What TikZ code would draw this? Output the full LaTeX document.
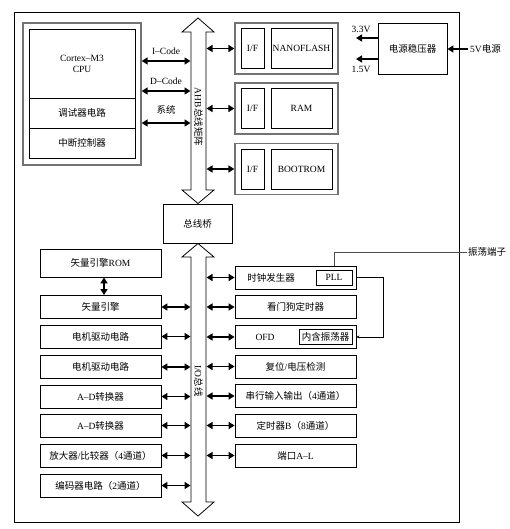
\documentclass[tikz,border=0pt]{standalone}
\usepackage{fontspec}
\setmainfont{Liberation Serif}
\newfontfamily\cjk{Noto Sans CJK SC}
\newcommand{\zh}[1]{{\cjk #1}}
\usetikzlibrary{arrows.meta,calc}
\tikzset{
  base/.style={font=\fontsize{9.5}{11}\selectfont},
  box/.style={draw, line width=0.8pt, inner sep=0pt, align=center, base},
  grp/.style={draw=black!55, line width=1.3pt, inner sep=0pt},
  dbl/.style={line width=1.7pt, {Stealth[length=6pt,width=7pt,inset=0pt]}-{Stealth[length=6pt,width=7pt,inset=0pt]}},
  sgl/.style={line width=1.7pt, -{Stealth[length=6pt,width=7pt,inset=0pt]}},
  lbl/.style={inner sep=1pt, base},
  thin/.style={line width=0.7pt, draw=black!70}
}
\begin{document}
\begin{tikzpicture}[x=1pt,y=-1pt]
\useasboundingbox (0,0) rectangle (510,529);
% outer frame
\draw[line width=0.9pt] (14,12) rectangle (459,522);

% CPU group
\node[grp, minimum width=118pt, minimum height=142pt] (cpubox) at (82,94) {};
\node[box, minimum width=106pt, minimum height=69pt] (cpu) at (82,63.5) {Cortex–M3\\CPU};
\node[box, minimum width=106pt, minimum height=30pt] (dbg) at (82,113) {\zh{调试器电路}};
\node[box, minimum width=106pt, minimum height=30pt] (irq) at (82,143) {\zh{中断控制器}};

% buses
\draw[line width=0.8pt, fill=white] (191,32) -- (182,32) -- (198,18) -- (214,32) -- (206,32) -- (206,190) -- (214,190) -- (198,203.5) -- (182,190) -- (191,190) -- cycle;
\draw[line width=0.8pt, fill=white] (191,257) -- (182,257) -- (198,243.5) -- (214,257) -- (206,257) -- (206,502) -- (214,502) -- (198,516) -- (182,502) -- (191,502) -- cycle;
\coordinate (busL) at (190.5,0);
\coordinate (busR) at (206.5,0);
\node[lbl, rotate=-90] (ahblbl) at (198.5,117) {AHB\zh{总线矩阵}};
\node[lbl, rotate=-90] (iolbl) at (198.5,381) {I/O\zh{总线}};

% bridge
\node[box, minimum width=69pt, minimum height=39pt] (bridge) at (197.5,223.5) {\zh{总线桥}};

% CPU arrows
\coordinate (icp) at ([yshift=33pt]cpubox.east);
\coordinate (dcp) at ([yshift=3pt]cpubox.east);
\coordinate (syp) at ([yshift=-29pt]cpubox.east);
\draw[dbl] (icp) -- (busL |- icp);
\draw[dbl] (dcp) -- (busL |- dcp);
\draw[dbl] (syp) -- (busL |- syp);
\node[lbl] (ic) at (166,51) {I–Code};
\node[lbl] (dc) at (166,81) {D–Code};
\node[lbl] (sy) at (166,110) {\zh{系统}};

% memory groups
\foreach \n/\t/\y in {m1/NANOFLASH/48.5, m2/RAM/108.5, m3/BOOTROM/169}{
  \node[grp, minimum width=103pt, minimum height=51pt] (\n) at (286.5,\y) {};
  \node[box, minimum width=23pt, minimum height=40pt] (\n if) at (252.5,\y) {I/F};
  \node[box, minimum width=61pt, minimum height=40pt] (\n nm) at (301.5,\y) {\t};
  \draw[dbl] (busR |- \n.west) -- (\n.west);
}

% power
\node[box, minimum width=69pt, minimum height=51pt] (pwr) at (412.5,48.5) {\zh{电源稳压器}};
\coordinate (v33) at (356,38);
\coordinate (v15) at (356,59);
\coordinate (v5) at (468,49);
\draw[sgl] (pwr.west |- v33) -- (v33);
\draw[sgl] (pwr.west |- v15) -- (v15);
\draw[sgl] (v5) -- (pwr.east |- v5);
\node[lbl] (l33) at (361,29) {3.3V};
\node[lbl] (l15) at (361,69) {1.5V};
\node[lbl, anchor=west] (l5) at (469,49) {5V\zh{电源}};

% left column
\node[box, minimum width=121pt, minimum height=28pt] (rom) at (100.5,263) {\zh{矢量引擎}ROM};
\foreach \n/\t/\y in {
  vec/{\zh{矢量引擎}}/307,
  mot1/{\zh{电机驱动电路}}/336.5,
  mot2/{\zh{电机驱动电路}}/367,
  ad1/{A–D\zh{转换器}}/396.5,
  ad2/{A–D\zh{转换器}}/425.5,
  amp/{\zh{放大器}/\zh{比较器（}4\zh{通道）}}/455.5,
  enc/{\zh{编码器电路（}2\zh{通道）}}/485.5}{
  \node[box, minimum width=121pt, minimum height=23pt] (\n) at (100.5,\y) {\t};
  \draw[dbl] (\n.east) -- (busL |- \n.east);
}
\draw[dbl] ([xshift=3.5pt]rom.south) -- ([xshift=3.5pt]vec.north);

% right column
\foreach \n/\t/\y in {
  clk/{}/277.5,
  wdt/{\zh{看门狗定时器}}/307,
  ofd/{}/337,
  rst/{\zh{复位}/\zh{电压检测}}/366.5,
  ser/{\zh{串行输入输出（}4\zh{通道）}}/396,
  tmb/{\zh{定时器}B\zh{（}8\zh{通道）}}/425.5,
  prt/{\zh{端口}A–L}/455.5}{
  \node[box, minimum width=121pt, minimum height=23pt] (\n) at (295.5,\y) {\t};
  \draw[dbl] (busR |- \n.west) -- (\n.west);
}
\node[lbl] (clkt) at (271,277.5) {\zh{时钟发生器}};
\node[box, minimum width=36pt, minimum height=15pt] (pll) at (334,277.5) {PLL};
\node[lbl] (ofdt) at (265,337) {OFD};
\node[box, minimum width=53pt, minimum height=15pt] (osc) at (325.5,336.5) {\zh{内含振荡器}};

% oscillator terminal
\node[lbl, anchor=west] (osclbl) at (467,252) {\zh{振荡端子}};
\draw[thin] (osclbl.west) -| (pll |- clk.north);
\coordinate (turn) at (383,0);
\draw[line width=0.8pt, -{Stealth[length=3pt,width=3pt]}] (clk.east) -- (clk.east -| turn) |- (ofd.east);
\end{tikzpicture}
\end{document}
